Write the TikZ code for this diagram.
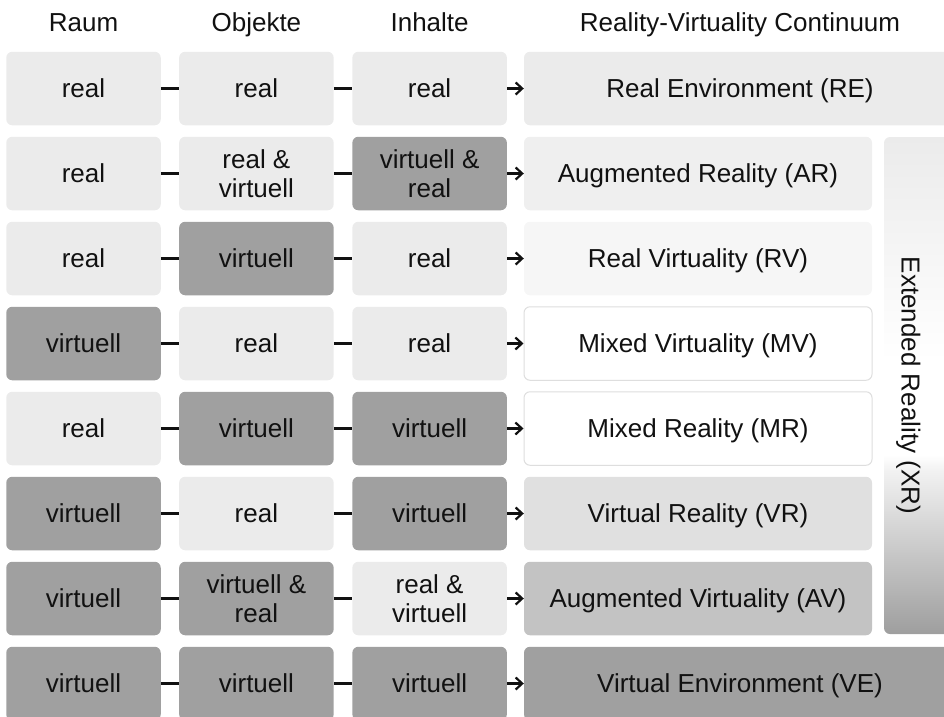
\documentclass[tikz,border=0pt]{standalone}
\usepackage{fontspec}
\setmainfont{Liberation Sans}
\usetikzlibrary{arrows.meta}

\definecolor{lightcell}{HTML}{EBEBEB}
\definecolor{darkcell}{HTML}{A0A0A0}
\definecolor{reFill}{HTML}{EBEBEB}
\definecolor{arFill}{HTML}{EFEFEF}
\definecolor{rvFill}{HTML}{F6F6F6}
\definecolor{vrFill}{HTML}{E0E0E0}
\definecolor{avFill}{HTML}{C3C3C3}
\definecolor{veFill}{HTML}{A0A0A0}
\definecolor{frameGray}{HTML}{DEDEDE}
\definecolor{inkBlack}{HTML}{111111}
\definecolor{xrTop}{HTML}{EBEBEB}
\definecolor{xrLow}{HTML}{F2F2F2}
\definecolor{xrBottom}{HTML}{9E9E9E}

% vertical gradient of the Extended Reality bar (path spans 25bp..75bp)
\pgfdeclareverticalshading{xrshade}{100bp}{%
  color(0bp)=(xrBottom); color(25bp)=(xrBottom);
  color(41.5bp)=(xrLow); color(43bp)=(white);
  color(52.5bp)=(white); color(75bp)=(xrTop); color(100bp)=(xrTop)}

\newcommand\diagfont{\fontsize{26}{29}\selectfont}

\tikzset{
  cell/.style={rounded corners=6pt, minimum width=154.5pt, minimum height=73.5pt,
    inner sep=0pt, align=center, font=\diagfont, text=inkBlack},
  realcell/.style={cell, fill=lightcell},
  virtcell/.style={cell, fill=darkcell},
  oneline/.style={text height=18.6pt, text depth=0pt},
  contbox/.style={rounded corners=6pt, minimum width=348pt, minimum height=73.5pt,
    inner sep=0pt, font=\diagfont, text=inkBlack, oneline},
  widebox/.style={contbox, minimum width=432pt},
  framed/.style={draw=frameGray, line width=1pt, fill=white},
  heading/.style={font=\diagfont, text=inkBlack, inner sep=0pt, oneline},
  link/.style={line width=2.6pt, draw=inkBlack},
  feed/.style={draw=inkBlack, line width=2.2pt,
    arrows={-Straight Barb[length=6.5pt,width=12pt]}}
}

\begin{document}
\begin{tikzpicture}[x=1pt,y=-1pt]
\useasboundingbox (0,0) rectangle (944,716);
\clip (0,0) rectangle (944,716);

% column headings
\node[heading] (hRaum) at (83.5,22) {Raum};
\node[heading] (hObj) at (256.4,22) {Objekte};
\node[heading] (hInh) at (429.6,22) {Inhalte};
\node[heading] (hRV) at (740,22) {Reality-Virtuality Continuum};

% row 1
\node[realcell] (r1a) at (83.5,88.5) {real};
\node[realcell] (r1b) at (256.4,88.5) {real};
\node[realcell] (r1c) at (429.6,88.5) {real};
\node[widebox, fill=reFill] (r1d) at (740,88.5) {Real Environment (RE)};
% row 2
\node[realcell] (r2a) at (83.5,173.5) {real};
\node[realcell] (r2b) at (256.4,173.5) {real \&\\virtuell};
\node[virtcell] (r2c) at (429.6,173.5) {virtuell \&\\real};
\node[contbox, fill=arFill] (r2d) at (698,173.5) {Augmented Reality (AR)};
% row 3
\node[realcell] (r3a) at (83.5,258.5) {real};
\node[virtcell] (r3b) at (256.4,258.5) {virtuell};
\node[realcell] (r3c) at (429.6,258.5) {real};
\node[contbox, fill=rvFill] (r3d) at (698,258.5) {Real Virtuality (RV)};
% row 4
\node[virtcell] (r4a) at (83.5,343.5) {virtuell};
\node[realcell] (r4b) at (256.4,343.5) {real};
\node[realcell] (r4c) at (429.6,343.5) {real};
\node[contbox, framed] (r4d) at (698,343.5) {Mixed Virtuality (MV)};
% row 5
\node[realcell] (r5a) at (83.5,428.5) {real};
\node[virtcell] (r5b) at (256.4,428.5) {virtuell};
\node[virtcell] (r5c) at (429.6,428.5) {virtuell};
\node[contbox, framed] (r5d) at (698,428.5) {Mixed Reality (MR)};
% row 6
\node[virtcell] (r6a) at (83.5,513.5) {virtuell};
\node[realcell] (r6b) at (256.4,513.5) {real};
\node[virtcell] (r6c) at (429.6,513.5) {virtuell};
\node[contbox, fill=vrFill] (r6d) at (698,513.5) {Virtual Reality (VR)};
% row 7
\node[virtcell] (r7a) at (83.5,598.5) {virtuell};
\node[virtcell] (r7b) at (256.4,598.5) {virtuell \&\\real};
\node[realcell] (r7c) at (429.6,598.5) {real \&\\virtuell};
\node[contbox, fill=avFill] (r7d) at (698,598.5) {Augmented Virtuality (AV)};
% row 8
\node[virtcell] (r8a) at (83.5,683.5) {virtuell};
\node[virtcell] (r8b) at (256.4,683.5) {virtuell};
\node[virtcell] (r8c) at (429.6,683.5) {virtuell};
\node[widebox, fill=veFill] (r8d) at (740,683.5) {Virtual Environment (VE)};

% Extended Reality bar with its label
\node[rounded corners=6pt, shading=xrshade, minimum width=66pt, minimum height=497pt,
  inner sep=0pt] (xr) at (917,385.5) {};
\node[heading, rotate=-90] (xrLabel) at (911,385.5) {Extended Reality (XR)};

% connectors between the cells of each row
\foreach \r in {1,...,8}{
  \draw[link] (r\r a) -- (r\r b);
  \draw[link] (r\r b) -- (r\r c);
  \draw[feed] (r\r c) -- (r\r d);
}
\end{tikzpicture}
\end{document}
